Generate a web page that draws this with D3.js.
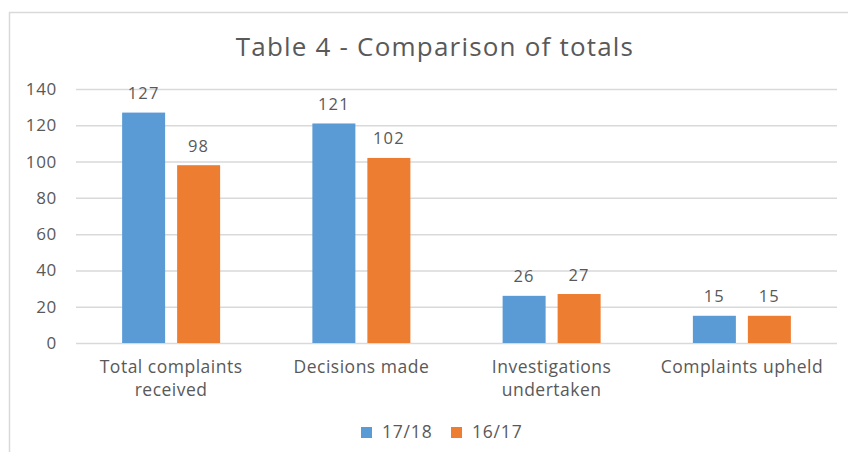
<!DOCTYPE html>
<html><head><meta charset="utf-8">
<script src="https://cdn.jsdelivr.net/npm/d3@7"></script>
<style>body{margin:0;background:#fff}svg{display:block;font-family:"Open Sans","Noto Sans",sans-serif}</style>
</head><body><svg id="c" width="848" height="452"></svg>
<script>
const categories = [["Total complaints","received"],["Decisions made"],["Investigations","undertaken"],["Complaints upheld"]];
const seriesNames = ["17/18","16/17"];
const values1718 = [127,121,26,15];
const values1617 = [98,102,27,15];
const yTicks = [0,20,40,60,80,100,120,140];
const colors = ["#5B9BD5","#ED7D31"];
const txt = "#595959";

const svg = d3.select("#c");
svg.append("rect").attr("x",9.5).attr("y",12.5).attr("width",900).attr("height",500)
  .attr("fill","#fff").attr("stroke","#d9d9d9").attr("stroke-width",1.5);

const L=76,R=837,T=89,B=343;
const y = d3.scaleLinear().domain([0,140]).range([B,T]);
const x0 = d3.scaleBand().domain(d3.range(categories.length)).range([L,R]);
const x1 = d3.scaleBand().domain(seriesNames).range([-49,49]).paddingInner(0.218);

svg.append("text").attr("x",435).attr("y",56).attr("text-anchor","middle")
  .attr("font-size",26).attr("letter-spacing",1.2).attr("fill",txt).text("Table 4 - Comparison of totals");

const ax = svg.append("g").attr("transform",`translate(${L},0)`)
  .call(d3.axisLeft(y).tickValues(yTicks).tickSize(-(R-L)).tickPadding(19));
ax.select(".domain").remove();
ax.selectAll(".tick line").attr("stroke","#d9d9d9").attr("stroke-width",1.5);
ax.selectAll(".tick text").attr("fill",txt).attr("font-size",17).attr("letter-spacing",0.7)
  .attr("font-family","Open Sans");

const data = categories.map((c,i)=>({i, vals:[values1718[i],values1617[i]]}));
const g = svg.append("g");
data.forEach(d=>{
  d.vals.forEach((v,j)=>{
    const xx = x0(d.i)+x0.bandwidth()/2 + x1(seriesNames[j]);
    g.append("rect").attr("x",xx).attr("y",y(v)).attr("width",x1.bandwidth()).attr("height",y(0)-y(v)).attr("fill",colors[j]);
    g.append("text").attr("x",xx+x1.bandwidth()/2).attr("y",y(v)-13.5).attr("text-anchor","middle")
      .attr("font-size",16.5).attr("letter-spacing",1.2).attr("fill",txt).text(v);
  });
});

categories.forEach((c,i)=>{
  const t = svg.append("text").attr("text-anchor","middle").attr("font-size",17.5)
    .attr("letter-spacing",0.5).attr("fill",txt);
  c.forEach((line,k)=>{
    t.append("tspan").attr("x",x0(i)+x0.bandwidth()/2).attr("y",373+k*22.5).text(line);
  });
});

const lg = svg.append("g");
const lx=[361,451];
seriesNames.forEach((s,j)=>{
  lg.append("rect").attr("x",lx[j]).attr("y",427).attr("width",11).attr("height",11).attr("fill",colors[j]);
  lg.append("text").attr("x",lx[j]+21).attr("y",438).attr("font-size",17.5).attr("letter-spacing",0.8)
    .attr("fill",txt).text(s);
});
</script></body></html>
